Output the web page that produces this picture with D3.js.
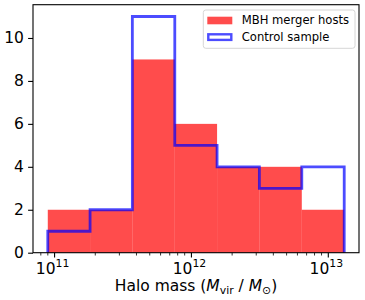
<!DOCTYPE html>
<html>
<head>
<meta charset="utf-8">
<script src="https://cdn.jsdelivr.net/npm/d3@7"></script>
<style>
  body { margin: 0; background: #fff; }
  text { font-family: "DejaVu Sans", sans-serif; fill: #000; }
</style>
</head>
<body>
<div id="chart"></div>
<script>
// bin edges, log10(M_vir / M_sun)
const binEdges = [10.954, 11.263, 11.572, 11.882, 12.191, 12.500, 12.810, 13.120];
const hostCounts = [2, 2, 9, 6, 4, 4, 2];
const controlCounts = [1, 2, 11, 5, 4, 3, 4];
const seriesNames = ['MBH merger hosts', 'Control sample'];
const xTickExps = [11, 12, 13];
const yTicks = [0, 2, 4, 6, 8, 10];

const width = 365, height = 300;
const margin = {top: 4.7, right: 6, bottom: 47.3, left: 33};
const fs = 15.5;

const svg = d3.select('#chart').append('svg')
  .attr('width', width)
  .attr('height', height);

const x = d3.scaleLog()
  .domain([Math.pow(10, 10.846), Math.pow(10, 13.228)])
  .range([margin.left, width - margin.right]);

const y = d3.scaleLinear()
  .domain([0, 11.55])
  .range([height - margin.bottom, margin.top]);

// filled histogram
svg.append('g').selectAll('rect')
  .data(hostCounts)
  .enter().append('rect')
  .attr('x', (d, i) => x(Math.pow(10, binEdges[i])))
  .attr('width', (d, i) => x(Math.pow(10, binEdges[i + 1])) - x(Math.pow(10, binEdges[i])))
  .attr('y', d => y(d))
  .attr('height', d => y(0) - y(d))
  .style('fill', 'red')
  .style('fill-opacity', 0.7);

// step histogram
let stepPts = [[binEdges[0], 0]];
controlCounts.forEach((c, i) => {
  stepPts.push([binEdges[i], c]);
  stepPts.push([binEdges[i + 1], c]);
});
stepPts.push([binEdges[binEdges.length - 1], 0]);

const line = d3.line()
  .x(d => x(Math.pow(10, d[0])))
  .y(d => y(d[1]));

svg.append('path')
  .datum(stepPts)
  .attr('d', line)
  .style('fill', 'none')
  .style('stroke', 'blue')
  .style('stroke-opacity', 0.7)
  .style('stroke-width', 2.8)
  .style('stroke-linejoin', 'miter');

// axes
const x0 = margin.left, x1 = width - margin.right;
const y0 = height - margin.bottom, y1 = margin.top;

const xAxis = d3.axisBottom(x)
  .tickValues(xTickExps.map(e => Math.pow(10, e)))
  .tickSize(4.9)
  .tickFormat('');
const gx = svg.append('g')
  .attr('transform', `translate(0,${y0})`)
  .call(xAxis);
gx.select('.domain').remove();
gx.selectAll('.tick line').attr('stroke-width', 1.1);

// minor ticks
let minor = [];
for (let e = 10; e <= 13; e++) {
  for (let k = 2; k <= 9; k++) {
    let v = k * Math.pow(10, e);
    if (v >= x.domain()[0] && v <= x.domain()[1]) minor.push(v);
  }
}
svg.append('g').selectAll('line')
  .data(minor)
  .enter().append('line')
  .attr('x1', d => x(d)).attr('x2', d => x(d))
  .attr('y1', y0).attr('y2', y0 + 2.8)
  .attr('stroke', '#000')
  .attr('stroke-width', 0.8);

// x tick labels with superscripts
const xl = svg.append('g').selectAll('text')
  .data(xTickExps)
  .enter().append('text')
  .attr('x', d => x(Math.pow(10, d)) - 1.5)
  .attr('y', 273.5)
  .attr('text-anchor', 'middle')
  .style('font-size', fs + 'px');
xl.append('tspan').text('10');
xl.append('tspan')
  .attr('dy', -6.5)
  .style('font-size', (fs * 0.7) + 'px')
  .text(d => d);

const yAxis = d3.axisLeft(y)
  .tickValues(yTicks)
  .tickSize(4.9)
  .tickPadding(4.2);
const gy = svg.append('g')
  .attr('transform', `translate(${x0},0)`)
  .call(yAxis);
gy.select('.domain').remove();
gy.selectAll('.tick line').attr('stroke-width', 1.1);
gy.selectAll('.tick text')
  .style('font-size', fs + 'px')
  .style('font-family', '"DejaVu Sans", sans-serif');

// frame
svg.append('rect')
  .attr('x', x0).attr('y', y1)
  .attr('width', x1 - x0).attr('height', y0 - y1)
  .style('fill', 'none')
  .style('stroke', '#000')
  .style('stroke-width', 1.1);

// x label
const lab = svg.append('text')
  .attr('x', (x0 + x1) / 2)
  .attr('y', 291)
  .attr('text-anchor', 'middle')
  .style('font-size', fs + 'px');
lab.append('tspan').text('Halo mass (');
lab.append('tspan').style('font-style', 'italic').text('M');
lab.append('tspan').attr('dy', 2.8).style('font-size', (fs * 0.7) + 'px').text('vir');
lab.append('tspan').attr('dy', -2.8).text(' / ');
lab.append('tspan').style('font-style', 'italic').text('M');
lab.append('tspan').attr('dy', 2.8).style('font-size', (fs * 0.7) + 'px').text('\u2299');
lab.append('tspan').attr('dy', -2.8).text(')');

// legend
const leg = svg.append('g');
leg.append('rect')
  .attr('x', 203.3).attr('y', 10)
  .attr('width', 151.7).attr('height', 38.3)
  .attr('rx', 2.5)
  .style('fill', '#fff').style('fill-opacity', 0.8)
  .style('stroke', '#d6d6d6').style('stroke-width', 1);

leg.append('rect')
  .attr('x', 207.3).attr('y', 16.7)
  .attr('width', 25).attr('height', 7.6)
  .style('fill', 'red').style('fill-opacity', 0.7);
leg.append('rect')
  .attr('x', 208.3).attr('y', 34.3)
  .attr('width', 23).attr('height', 5.6)
  .style('fill', 'none')
  .style('stroke', 'blue').style('stroke-opacity', 0.7)
  .style('stroke-width', 2.4);

leg.selectAll('text.lt')
  .data(seriesNames)
  .enter().append('text')
  .attr('class', 'lt')
  .attr('x', 241.7)
  .attr('y', (d, i) => 24.4 + i * 17)
  .style('font-size', '11.6px')
  .text(d => d);
</script>
</body>
</html>
